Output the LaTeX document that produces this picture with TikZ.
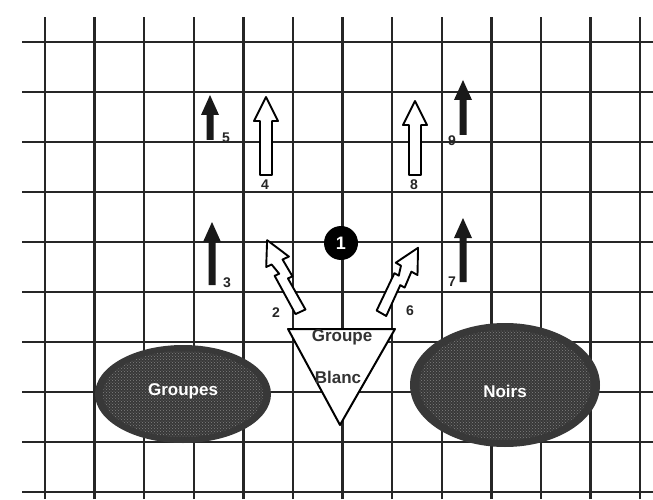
\documentclass[tikz,border=0pt]{standalone}
\usepackage{fontspec}
\setmainfont{Liberation Sans}
\usetikzlibrary{patterns}
\tikzset{
  gridline/.style={line width=2.4pt, draw=black!85},
  solidarr/.style={fill=black!90},
  hollowarr/.style={draw=black, line width=1.9pt, fill=white, line join=round},
  numlabel/.style={font=\bfseries\fontsize{14}{14}\selectfont, inner sep=0pt, text=black!85},
  blob/.style={fill=black!78},
  blobtext/.style={text=white, font=\bfseries\fontsize{17}{17}\selectfont},
}
\newcommand\mysolidarrow[3]{% x, ytail, ytip
  \fill[solidarr] (#1-3.5,#2) -- (#1+3.5,#2) -- (#1+3.5,#3-20) -- (#1+9,#3-20) -- (#1,#3) -- (#1-9,#3-20) -- (#1-3.5,#3-20) -- cycle;}
\newcommand\myhollowarrow[4]{% x, y of tail, rotation, length
  \draw[hollowarr, shift={(#1,#2)}, rotate=#3] (-6,0) -- (6,0) -- (6,#4-24) -- (12,#4-24) -- (0,#4) -- (-12,#4-24) -- (-6,#4-24) -- cycle;}
\newcommand\myboltarrow[4]{% x, y of tail, rotation, length
  \draw[hollowarr, shift={(#1,#2)}, rotate=#3] (-5,0) -- (6,0) -- (3,0.45*#4) -- (8,0.45*#4) -- (6,#4-24) -- (13,#4-24) -- (0,#4) -- (-12,#4-24) -- (-6,#4-24) -- (-3,0.55*#4) -- (-8,0.55*#4) -- cycle;}
\begin{document}
\begin{tikzpicture}[x=1pt,y=1pt]
\useasboundingbox (0,0) rectangle (653,499);
\fill[white] (0,0) rectangle (653,499);
% grid
\foreach \i in {0,...,12}{
  \draw[gridline] ({45+49.6*\i},0) -- ({45+49.6*\i},482);
}
\foreach \j in {0,...,9}{
  \draw[gridline] (22,{457-50*\j}) -- (653,{457-50*\j});
}
% blobs
\fill[blob] (183,105) ellipse [x radius=88, y radius=49];
\fill[pattern=crosshatch dots, pattern color=black!50] (183,105) ellipse [x radius=80, y radius=43];
\node[blobtext] (groupes) at (183,108) {Groupes};
\fill[blob] (505,114) ellipse [x radius=95, y radius=62];
\fill[pattern=crosshatch dots, pattern color=black!50] (505,114) ellipse [x radius=86, y radius=55];
\node[blobtext] (noirs) at (505,108) {Noirs};
% triangle
\draw[line width=2pt, fill=white, line join=round] (288,170) -- (395,170) -- (340,74) -- cycle;
\node[font=\bfseries\fontsize{17}{17}\selectfont, text=black!80] (groupe) at (342,162) {Groupe};
\node[font=\bfseries\fontsize{17}{17}\selectfont, text=black!80] (blanc) at (338,122) {Blanc};
% circle 1
\node[circle, fill=black, minimum size=34pt, inner sep=0pt, text=white, font=\bfseries\fontsize{18}{18}\selectfont] (n1) at (341,256) {1};
% solid arrows
\mysolidarrow{212}{214}{277}
\mysolidarrow{210}{359}{404}
\mysolidarrow{463}{364}{419}
\mysolidarrow{463}{217}{281}
% hollow arrows
\myhollowarrow{266}{324}{0}{78}
\myhollowarrow{415}{324}{0}{74}
\myboltarrow{300}{187}{24.6}{79}
\myboltarrow{381}{186}{-29.6}{75}
% labels
\node[numlabel] (l2) at (276,186) {2};
\node[numlabel] (l3) at (227,216) {3};
\node[numlabel] (l4) at (265,314) {4};
\node[numlabel] (l5) at (226,361) {5};
\node[numlabel] (l6) at (410,188) {6};
\node[numlabel] (l7) at (452,217) {7};
\node[numlabel] (l8) at (414,314) {8};
\node[numlabel] (l9) at (452,358) {9};
\end{tikzpicture}
\end{document}
